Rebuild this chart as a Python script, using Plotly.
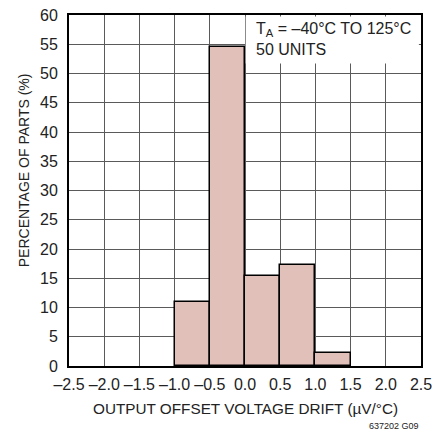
import plotly.graph_objects as go

bin_centers = [-0.75, -0.25, 0.25, 0.75, 1.25]
percentages = [10.9, 54.5, 15.4, 17.2, 2.2]
bin_width = 0.5

x_tickvals = [-2.5, -2.0, -1.5, -1.0, -0.5, 0.0, 0.5, 1.0, 1.5, 2.0, 2.5]
x_ticktext = ["–2.5", "–2.0", "–1.5", "–1.0", "–0.5", "0.0", "0.5", "1.0", "1.5", "2.0", "2.5"]
y_tickvals = [0, 5, 10, 15, 20, 25, 30, 35, 40, 45, 50, 55, 60]

FONT = "Liberation Sans, Arial, sans-serif"
TXT = "#222"

fig = go.Figure()
fig.add_trace(go.Bar(
    x=bin_centers, y=percentages, width=bin_width,
    marker=dict(color="#e2c0ba", line=dict(color="black", width=1.5)),
))

fig.update_layout(
    width=439, height=425,
    margin=dict(l=61, r=26, t=7, b=67, autoexpand=False),
    paper_bgcolor="white", plot_bgcolor="white",
    font=dict(family=FONT, size=15, color=TXT),
    showlegend=False,
    bargap=0,
)
fig.update_xaxes(
    range=[-2.5, 2.5], tickvals=x_tickvals, ticktext=x_ticktext,
    showgrid=True, gridcolor="#5a5a5a", gridwidth=1,
    showline=True, linecolor="black", linewidth=2, mirror=True,
    ticks="outside", ticklen=3, tickcolor="rgba(0,0,0,0)",
    zeroline=False, automargin=False, ticklabeloverflow="allow",
    tickfont=dict(size=16),
)
fig.update_yaxes(
    range=[0, 60], tickvals=y_tickvals,
    showgrid=True, gridcolor="#5a5a5a", gridwidth=1,
    showline=True, linecolor="black", linewidth=2, mirror=True,
    ticks="outside", ticklen=6, tickcolor="rgba(0,0,0,0)",
    zeroline=False, automargin=False, ticklabeloverflow="allow",
    tickfont=dict(size=16),
)
# axis titles
fig.add_annotation(
    xref="paper", yref="paper", x=0.5, y=-0.121, xanchor="center", yanchor="middle",
    text="OUTPUT OFFSET VOLTAGE DRIFT (µV/°C)", showarrow=False,
    font=dict(family=FONT, size=15.3, color=TXT),
)
fig.add_annotation(
    xref="paper", yref="paper", x=-0.128, y=0.5575, xanchor="center", yanchor="middle",
    text="PERCENTAGE OF PARTS (%)", showarrow=False, textangle=-90,
    font=dict(family=FONT, size=14, color=TXT),
)
# conditions box
fig.add_shape(
    type="rect", xref="paper", yref="paper",
    x0=0.502, x1=0.994, y0=0.862, y1=0.996,
    fillcolor="white", line=dict(width=0), layer="above",
)
fig.add_annotation(
    xref="paper", yref="paper", x=0.528, y=0.989, xanchor="left", yanchor="top",
    text="T<sub>A</sub> = –40°C TO 125°C<br>50 UNITS", align="left",
    showarrow=False, borderpad=0,
    font=dict(family=FONT, size=16, color=TXT),
)
fig.add_annotation(
    xref="paper", yref="paper", x=0.997, y=-0.153, xanchor="right", yanchor="top",
    text="637202 G09", showarrow=False, borderpad=0,
    font=dict(family=FONT, size=9, color=TXT),
)
fig.write_html("out.html")
